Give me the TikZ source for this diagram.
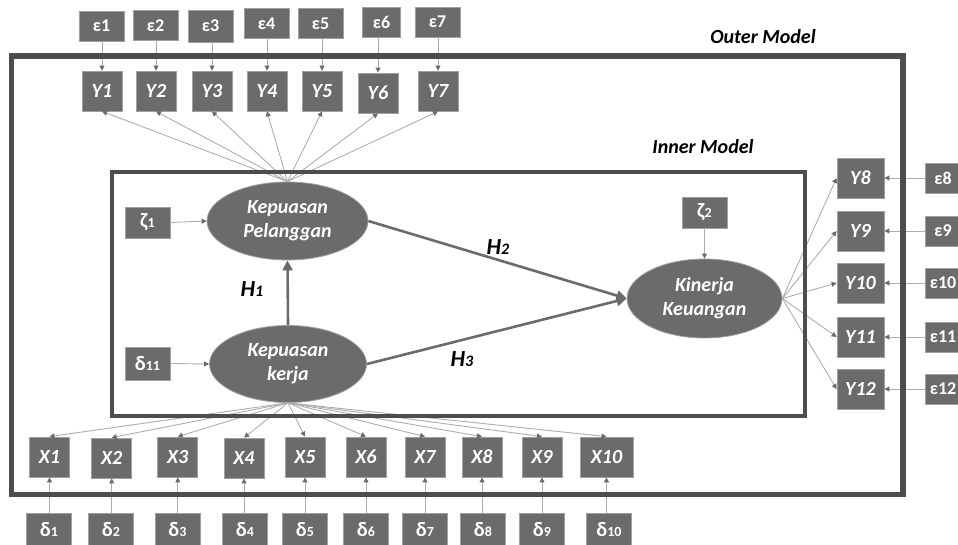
\documentclass[tikz,border=0pt]{standalone}
\usepackage{fontspec}
\setmainfont{Carlito}
\usetikzlibrary{arrows.meta,shapes.geometric}
\definecolor{boxgray}{HTML}{6B6B6B}
\definecolor{edgegray}{HTML}{A0A0A0}
\definecolor{linegray}{HTML}{ADADAD}
\definecolor{framegray}{HTML}{4D4D4D}
\definecolor{tipgray}{HTML}{6A6A6A}
\newcommand{\smalldig}[1]{{\fontsize{14}{14}\selectfont #1}}
\newcommand{\hdig}[1]{{\fontsize{16}{16}\selectfont #1}}
\begin{document}
\begin{tikzpicture}[x=1pt,y=-1pt,
  ind/.style={draw=edgegray, line width=0.8pt, fill=boxgray, text=white, minimum width=40pt, minimum height=40pt, inner sep=0pt, font=\fontsize{20}{20}\selectfont\bfseries\itshape},
  err/.style={draw=edgegray, line width=0.8pt, fill=boxgray, text=white, minimum width=45pt, minimum height=30pt, inner sep=0pt, font=\fontsize{18}{18}\selectfont\bfseries},
  gerr/.style={err, minimum height=33pt, font=\fontsize{20.5}{20.5}\selectfont\bfseries},
  lat/.style={ellipse, draw=edgegray, line width=0.8pt, fill=boxgray, text=white, minimum width=158pt, minimum height=78pt, inner sep=0pt, align=center, font=\fontsize{20}{24}\selectfont\bfseries\itshape},
  ld/.style={draw=linegray, line width=0.9pt, -{Triangle[length=5pt,width=5pt,color=tipgray]}},
  hyp/.style={draw=boxgray, line width=2.6pt, -{Triangle[length=10pt,width=10pt]}},
  ttl/.style={font=\fontsize{20}{20}\selectfont\bfseries\itshape, text=black},
  hl/.style={font=\fontsize{23}{23}\selectfont\bfseries\itshape, text=black}
]
\useasboundingbox (0,0) rectangle (958,545);
\clip (0,0) rectangle (958,545);

% latent variables
\node[lat, minimum width=161pt] (kp) at (287.5,221) {Kepuasan\\Pelanggan};
\node[lat, minimum width=157pt, minimum height=77pt] (kk) at (288,364) {Kepuasan\\kerja};
\node[lat, minimum width=155pt, minimum height=79pt] (ku) at (704.5,298.5) {Kinerja\\Keuangan};

% disturbances
\node[gerr, minimum height=31pt] (z1) at (147.5,222.5) {ζ\smalldig{1}};
\node[gerr] (d11) at (147.5,363.5) {δ\smalldig{11}};
\node[gerr, minimum height=31pt] (z2) at (704.5,212.5) {ζ\smalldig{2}};

% top indicators
\node[ind] (Y1) at (102,91) {Y1};
\node[ind] (Y2) at (156,91) {Y2};
\node[ind] (Y3) at (212,91) {Y3};
\node[ind] (Y4) at (267,91) {Y4};
\node[ind] (Y5) at (322,91) {Y5};
\node[ind] (Y6) at (378,93) {Y6};
\node[ind] (Y7) at (438,91) {Y7};

\node[err] (e1) at (101.5,26) {ε1};
\node[err] (e2) at (155.5,25.5) {ε2};
\node[err, minimum height=32pt] (e3) at (210.5,26) {ε3};
\node[err] (e4) at (266.5,23.5) {ε4};
\node[err] (e5) at (320.5,23.5) {ε5};
\node[err, minimum width=38pt] (e6) at (381.5,22) {ε6};
\node[err] (e7) at (437.5,22) {ε7};

% right indicators
\node[ind, minimum width=47pt] (Y8) at (860.5,178) {Y8};
\node[ind, minimum width=47pt] (Y9) at (860.5,231) {Y9};
\node[ind, minimum width=47pt] (Y10) at (860.5,283) {Y10};
\node[ind, minimum width=47pt] (Y11) at (860.5,337) {Y11};
\node[ind, minimum width=47pt] (Y12) at (860.5,389) {Y12};

\node[err, minimum width=36pt] (e8) at (943,178) {ε8};
\node[err, minimum width=36pt] (e9) at (943,231) {ε9};
\node[err, minimum width=36pt] (e10) at (943,283) {ε10};
\node[err, minimum width=36pt] (e11) at (943,337) {ε11};
\node[err, minimum width=36pt] (e12) at (943,389) {ε12};

% bottom indicators
\node[ind] (X1) at (49.5,457) {X1};
\node[ind] (X2) at (111.7,458) {X2};
\node[ind] (X3) at (177.8,457) {X3};
\node[ind] (X4) at (244,458) {X4};
\node[ind] (X5) at (305,457) {X5};
\node[ind] (X6) at (366,457) {X6};
\node[ind] (X7) at (425,457) {X7};
\node[ind] (X8) at (482,457) {X8};
\node[ind] (X9) at (542,457) {X9};
\node[ind, minimum width=53pt] (X10) at (606.5,457) {X10};

\node[gerr] (d1) at (49,530) {δ\smalldig{1}};
\node[gerr] (d2) at (111,530) {δ\smalldig{2}};
\node[gerr] (d3) at (177.5,530) {δ\smalldig{3}};
\node[gerr] (d4) at (245,530) {δ\smalldig{4}};
\node[gerr] (d5) at (305,530) {δ\smalldig{5}};
\node[gerr] (d6) at (366,530) {δ\smalldig{6}};
\node[gerr] (d7) at (425,530) {δ\smalldig{7}};
\node[gerr] (d8) at (483,530) {δ\smalldig{8}};
\node[gerr] (d9) at (542,530) {δ\smalldig{9}};
\node[gerr] (d10) at (609,530) {δ\smalldig{10}};

% labels
\node[ttl] (outerlbl) at (763,37) {Outer Model};
\node[ttl] (innerlbl) at (703,147) {Inner Model};
\node[hl] (h1) at (252,289) {H\hdig{1}};
\node[hl] (h2) at (498,247) {H\hdig{2}};
\node[hl] (h3) at (462,359) {H\hdig{3}};

% measurement connectors
\foreach \i in {1,...,7} {
  \draw[ld] (e\i.south -| Y\i.north) -- (Y\i.north);
  \draw[ld] (kp.north) -- (Y\i.south);
}
\foreach \i in {8,...,12} {
  \draw[ld] (e\i.west) -- (Y\i.east);
  \draw[ld] (ku.east) -- (Y\i.west);
}
\foreach \i in {1,...,10} {
  \draw[ld] (d\i.north -| X\i.south) -- (X\i.south);
  \draw[ld] (kk.south) -- (X\i.north);
}
\draw[ld] (z1.east) -- (kp.west);
\draw[ld] (d11.east) -- (kk.west);
\draw[ld] (z2.south) -- (ku.north);

% structural paths
\draw[hyp] (kk.north) -- (kp.south);
\draw[hyp] (kp.east) -- (ku.west);
\draw[hyp] (kk.east) -- (ku.west);

% frames
\draw[draw=framegray, line width=5.5pt] (11.5,56) rectangle (903,494.5);
\draw[draw=framegray, line width=4pt] (112,172) rectangle (804.5,415.5);
\end{tikzpicture}
\end{document}
